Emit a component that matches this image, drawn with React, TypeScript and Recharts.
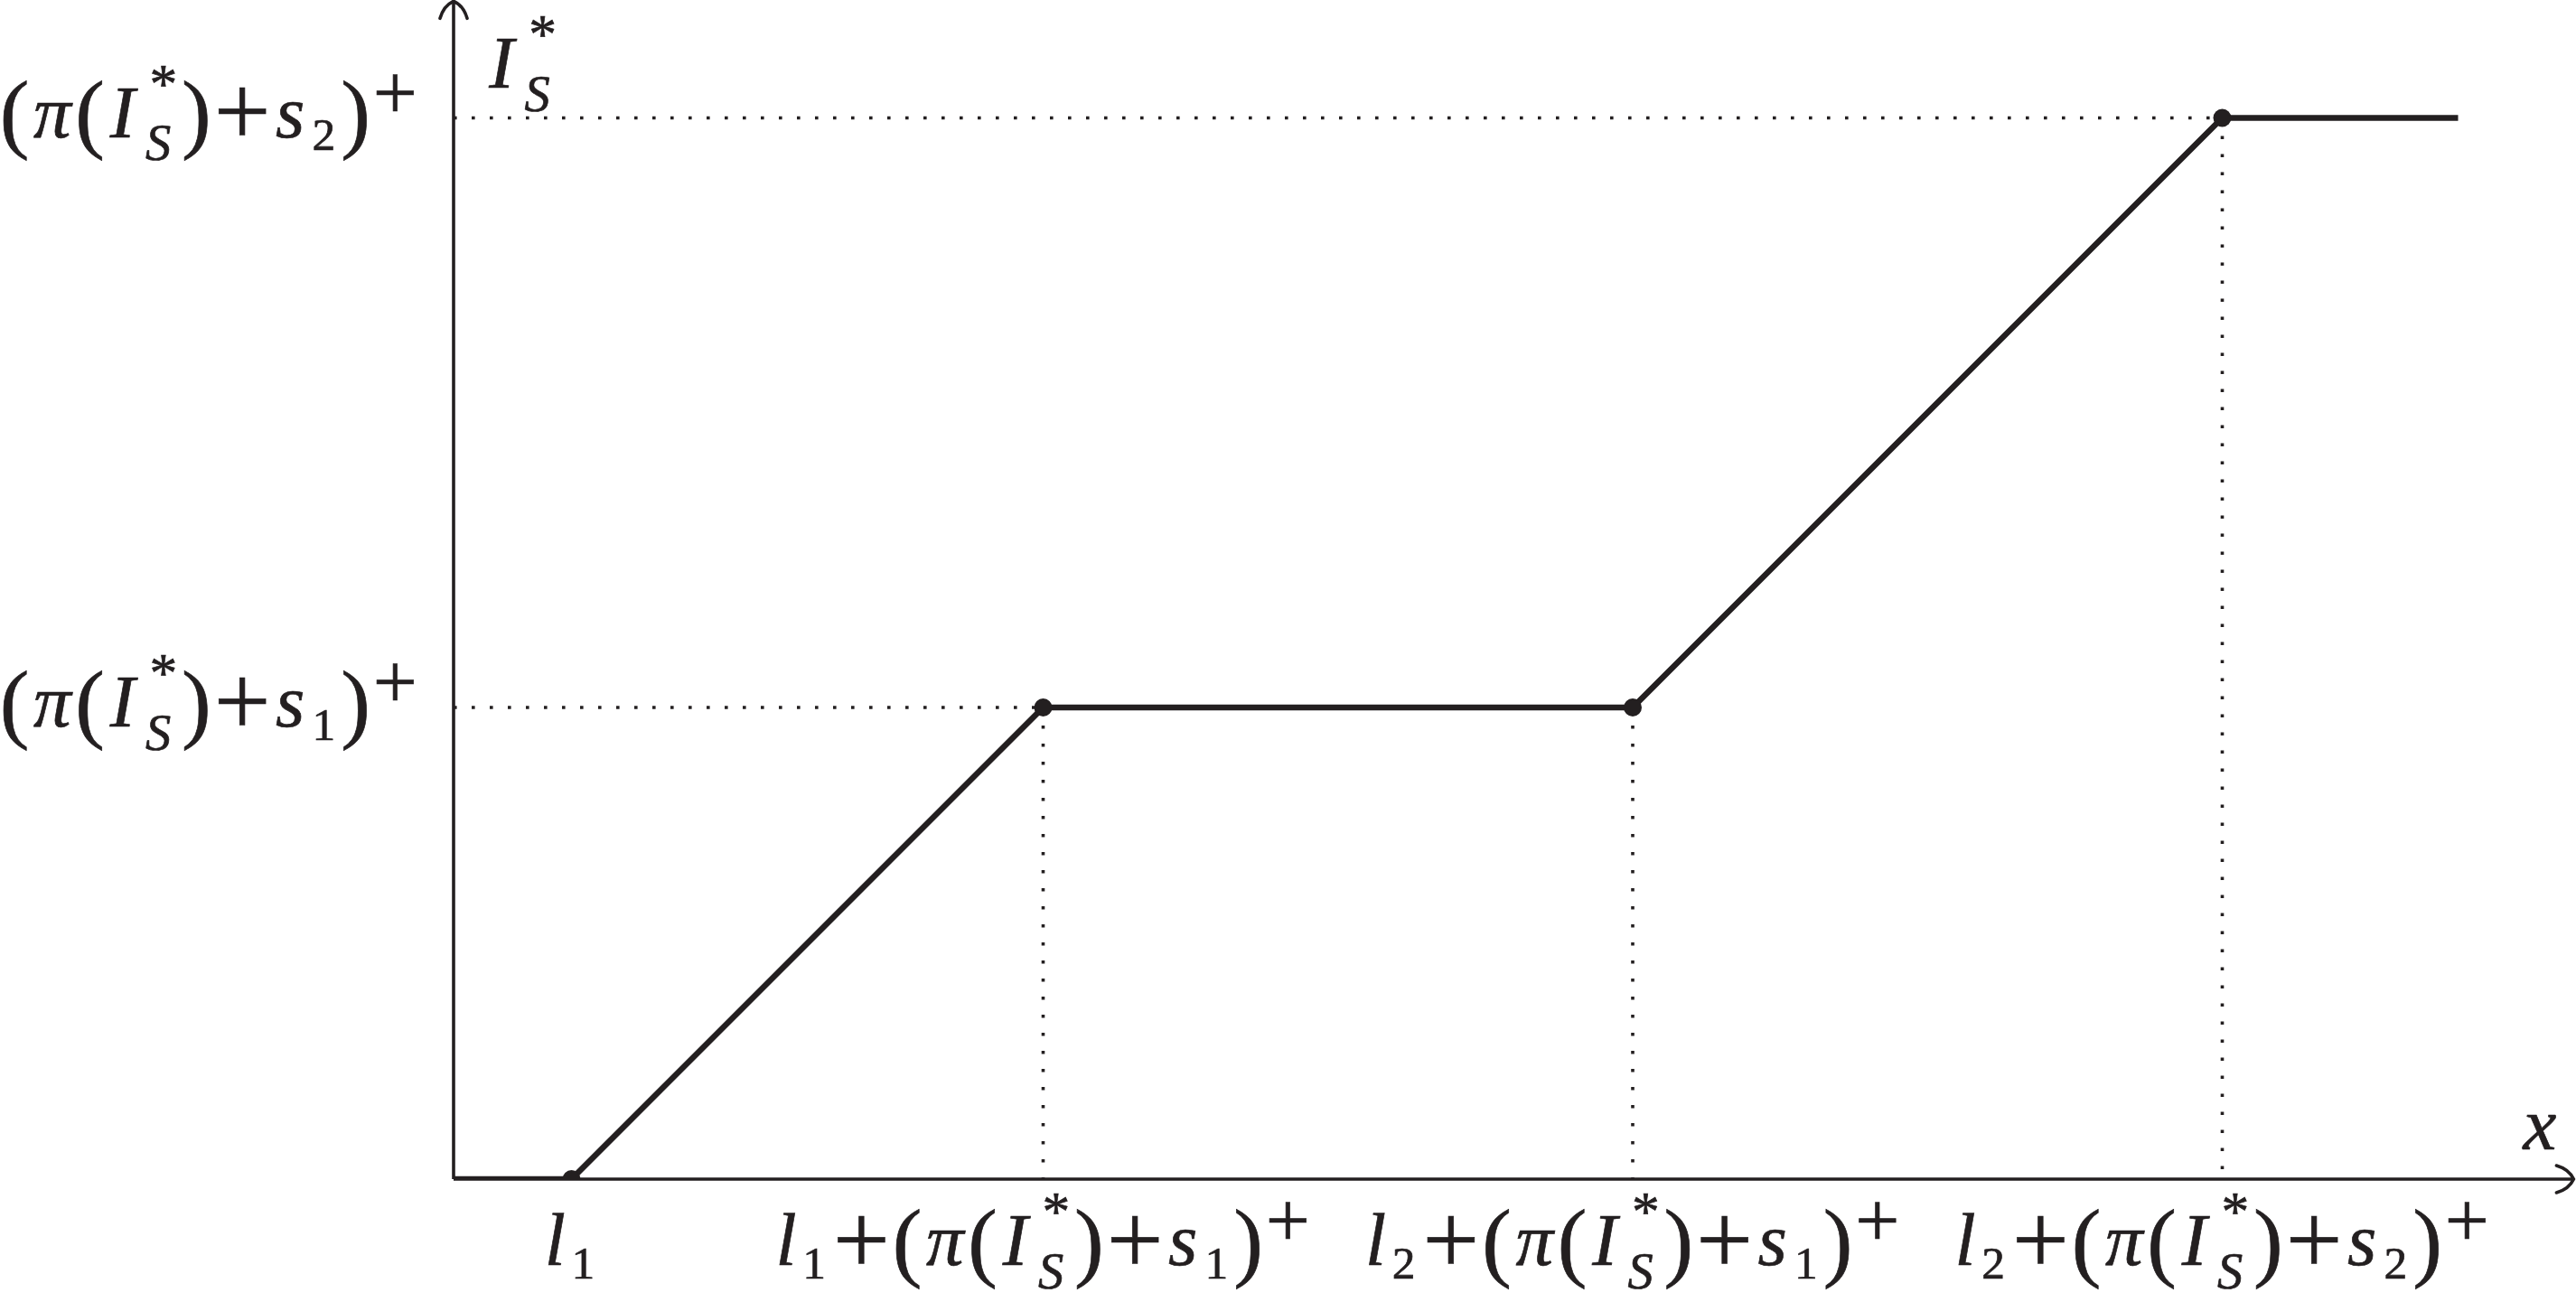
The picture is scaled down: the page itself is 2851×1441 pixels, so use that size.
import React from 'react';
import { ComposedChart, Line, Scatter, XAxis, YAxis, ReferenceLine, ReferenceDot } from 'recharts';

// ---- data ----
const xValues = [0, 1, 5, 10, 15, 17];
const yValues = [0, 0, 4, 4, 9, 9];
const breakX = [1, 5, 10, 15];
const breakY = [0, 4, 4, 9];
const xTicks = [1, 5, 10, 15];
const xTickLabels = ['l_1', 'l_1+(π(I^*_S)+s_1)^+', 'l_2+(π(I^*_S)+s_1)^+', 'l_2+(π(I^*_S)+s_2)^+'];
const yTicks = [4, 9];
const yTickLabels = ['(π(I^*_S)+s_1)^+', '(π(I^*_S)+s_2)^+'];
const yAxisTitle = 'I^*_S';
const xAxisTitle = 'x';
const xDomain = [0, 18];
const yDomain = [0, 10];
const xAxisEnd = 17.98;
const yAxisEnd = 9.99;
// dotted guides: horizontal from the y axis to a breakpoint, vertical from a breakpoint down to the x axis
const hGuideX = [5, 15];
const hGuideY = [4, 9];
const vGuideX = [5, 10, 15];
const vGuideY = [4, 4, 9];

const lineData = xValues.map((x, i) => ({ x, y: yValues[i] }));
const breakData = breakX.map((x, i) => ({ x, y: breakY[i] }));

const INK = '#231f20';
const FONT = "'Liberation Serif', 'Times New Roman', serif";
const F = 83;
const K = 87;

const W_MAIN: Record<string, number> = { l: 0.298, 'π': 0.57, I: 0.44, s: 0.44, x: 0.572, '(': 0.389, ')': 0.389, '+': 0.778, S: 0.613 };
const W_SCRIPT: Record<string, number> = { '1': 0.42, '2': 0.42, '+': 0.614, '*': 0.447, S: 0.47 };

type Tok = { ch: string; role: 'main' | 'sub' | 'sup' | 'supS' | 'subS' };
type Glyph = Tok & { pos: number; w: number };

function parse(s: string): Tok[] {
  const c = Array.from(s);
  const toks: Tok[] = [];
  for (let i = 0; i < c.length; i++) {
    if (c[i] === '^' && c[i + 2] === '_') {
      toks.push({ ch: c[i + 1], role: 'supS' });
      toks.push({ ch: c[i + 3], role: 'subS' });
      i += 3;
    } else if (c[i] === '^') {
      toks.push({ ch: c[i + 1], role: 'sup' });
      i += 1;
    } else if (c[i] === '_') {
      toks.push({ ch: c[i + 1], role: 'sub' });
      i += 1;
    } else toks.push({ ch: c[i], role: 'main' });
  }
  return toks;
}

function layout(s: string) {
  const toks = parse(s);
  let p = 0;
  const glyphs: Glyph[] = [];
  for (let i = 0; i < toks.length; i++) {
    const t = toks[i];
    if (t.role === 'main') {
      const w = W_MAIN[t.ch] ?? 0.5;
      glyphs.push({ ...t, pos: p, w });
      p += w;
    } else if (t.role === 'sub' || t.role === 'sup') {
      const w = W_SCRIPT[t.ch] ?? 0.4;
      glyphs.push({ ...t, pos: p, w });
      p += w;
    } else if (t.role === 'supS') {
      const b = toks[i + 1];
      const ws = W_SCRIPT[t.ch] ?? 0.4;
      const wb = W_SCRIPT[b.ch] ?? 0.4;
      glyphs.push({ ...t, pos: p + 0.078, w: ws });
      glyphs.push({ ...b, pos: p, w: wb });
      p += Math.max(0.078 + ws, wb);
      i += 1;
    }
  }
  return { glyphs, width: p };
}

function glyphStyle(g: Glyph) {
  const letter = /[A-Za-zπ]/.test(g.ch);
  if (g.role === 'main') {
    if (g.ch === '+') return { size: 1.34 * F, dy: 0.12 * F, italic: false };
    if (g.ch === '(' || g.ch === ')') return { size: 1.18 * F, dy: 0.07 * F, italic: false };
    return { size: F, dy: 0, italic: letter };
  }
  if (g.role === 'sub') return letter ? { size: 0.7 * F, dy: 0.2 * F, italic: true } : { size: 0.62 * F, dy: 0.18 * F, italic: false };
  if (g.role === 'sup') return g.ch === '+' ? { size: 1.05 * F, dy: -0.24 * F, italic: false } : { size: 0.6 * F, dy: -0.4 * F, italic: false };
  if (g.role === 'supS') return { size: 0.74 * F, dy: -0.465 * F, italic: false };
  return { size: 0.68 * F, dy: 0.31 * F, italic: letter };
}

// one <text> per label; each glyph is a tspan placed at its own position
function MathText({ s, x, y, anchor }: { s: string; x: number; y: number; anchor: 'start' | 'middle' | 'end' }) {
  const { glyphs, width } = layout(s);
  const wpx = width * K;
  const x0 = anchor === 'middle' ? x - wpx / 2 : anchor === 'end' ? x - wpx : x;
  return (
    <text textAnchor="middle" fontFamily={FONT} fill={INK} stroke={INK} strokeWidth={0.7} fontSize={F}>
      {glyphs.map((g, i) => {
        const st = glyphStyle(g);
        return (
          <tspan
            key={i}
            x={x0 + (g.pos + g.w / 2) * K}
            y={y + st.dy}
            fontSize={st.size}
            fontStyle={st.italic ? 'italic' : 'normal'}
          >
            {g.ch}
          </tspan>
        );
      })}
    </text>
  );
}

const XTick = (props: any) => {
  const { x, y, payload } = props;
  const idx = xTicks.indexOf(payload.value);
  if (idx < 0) return <g />;
  return <MathText s={xTickLabels[idx]} x={x} y={y + 95} anchor="middle" />;
};

const YTick = (props: any) => {
  const { x, y, payload } = props;
  const idx = yTicks.indexOf(payload.value);
  if (idx < 0) return <g />;
  return <MathText s={yTickLabels[idx]} x={x - 38} y={y + 21} anchor="end" />;
};

const upArrow = (p: any) => (
  <path
    d={`M ${p.cx - 15} ${p.cy + 19} Q ${p.cx - 11} ${p.cy + 5} ${p.cx} ${p.cy} Q ${p.cx + 11} ${p.cy + 5} ${p.cx + 15} ${p.cy + 19}`}
    fill="none"
    stroke={INK}
    strokeWidth={3.6}
    strokeLinecap="round"
  />
);

const rightArrow = (p: any) => (
  <path
    d={`M ${p.cx - 19} ${p.cy - 15} Q ${p.cx - 5} ${p.cy - 11} ${p.cx} ${p.cy} Q ${p.cx - 5} ${p.cy + 11} ${p.cx - 19} ${p.cy + 15}`}
    fill="none"
    stroke={INK}
    strokeWidth={3.6}
    strokeLinecap="round"
  />
);

const yTitleShape = (p: any) => <MathText s={yAxisTitle} x={p.cx + 34} y={p.cy + 97} anchor="start" />;
const xTitleShape = (p: any) => <MathText s={xAxisTitle} x={p.cx - 40} y={p.cy - 33} anchor="middle" />;

const dotShape = (p: any) => <circle cx={p.cx} cy={p.cy} r={10} fill={INK} />;

export default function App() {
  return (
    <div style={{ position: 'absolute', left: 0, top: 0, background: '#fff' }}>
      <ComposedChart width={2851} height={1441} data={lineData} margin={{ top: 0, right: 0, bottom: 0, left: 0 }}>
        <XAxis
          type="number"
          dataKey="x"
          domain={xDomain}
          ticks={xTicks}
          interval={0}
          height={136}
          axisLine={false}
          tickLine={false}
          tickSize={0}
          tickMargin={0}
          tick={XTick}
          allowDataOverflow
        />
        <YAxis
          type="number"
          dataKey="y"
          domain={yDomain}
          ticks={yTicks}
          interval={0}
          width={502}
          axisLine={false}
          tickLine={false}
          tickSize={0}
          tickMargin={0}
          tick={YTick}
          allowDataOverflow
        />
        {hGuideX.map((gx, i) => (
          <ReferenceLine
            key={'h' + i}
            segment={[{ x: 0, y: hGuideY[i] }, { x: gx, y: hGuideY[i] }]}
            stroke={INK}
            strokeWidth={3.6}
            strokeDasharray="3.6 16.4"
            ifOverflow="visible"
          />
        ))}
        {vGuideX.map((gx, i) => (
          <ReferenceLine
            key={'v' + i}
            segment={[{ x: gx, y: vGuideY[i] }, { x: gx, y: 0 }]}
            stroke={INK}
            strokeWidth={3.6}
            strokeDasharray="3.6 16.4"
            ifOverflow="visible"
          />
        ))}
        <ReferenceLine segment={[{ x: 0, y: 0 }, { x: xAxisEnd, y: 0 }]} stroke={INK} strokeWidth={3.6} ifOverflow="visible" />
        <ReferenceLine segment={[{ x: 0, y: 0 }, { x: 0, y: yAxisEnd }]} stroke={INK} strokeWidth={3.6} ifOverflow="visible" />
        <ReferenceDot x={0} y={yAxisEnd} r={0} shape={upArrow} ifOverflow="visible" />
        <ReferenceDot x={xAxisEnd} y={0} r={0} shape={rightArrow} ifOverflow="visible" />
        <ReferenceDot x={0} y={10} r={0} shape={yTitleShape} ifOverflow="visible" />
        <ReferenceDot x={18} y={0} r={0} shape={xTitleShape} ifOverflow="visible" />
        <Line
          type="linear"
          dataKey="y"
          stroke={INK}
          strokeWidth={6.5}
          dot={false}
          activeDot={false}
          isAnimationActive={false}
          strokeLinejoin="miter"
        />
        <Scatter data={breakData} dataKey="y" shape={dotShape} isAnimationActive={false} />
      </ComposedChart>
    </div>
  );
}
